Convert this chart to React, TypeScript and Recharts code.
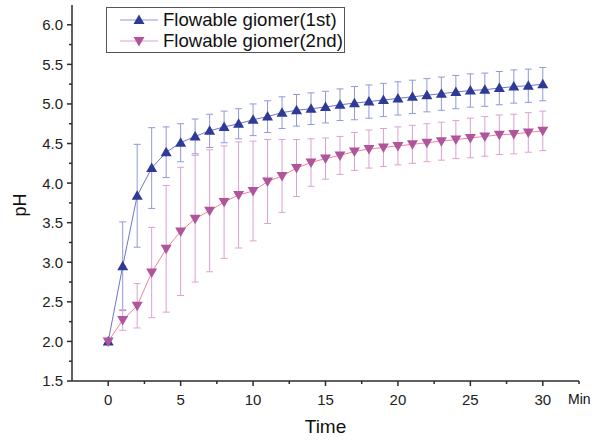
import React from "react";
import {
  LineChart,
  Line,
  XAxis,
  YAxis,
  ErrorBar,
  Legend,
  Label,
} from "recharts";

const minutes = [
  0, 1, 2, 3, 4, 5, 6, 7, 8, 9, 10, 11, 12, 13, 14, 15, 16, 17, 18, 19, 20, 21,
  22, 23, 24, 25, 26, 27, 28, 29, 30,
];
const firstMean = [
  2.0, 2.95, 3.84, 4.19, 4.39, 4.51, 4.59, 4.66, 4.71, 4.75, 4.8, 4.84, 4.89,
  4.92, 4.94, 4.96, 4.99, 5.01, 5.03, 5.05, 5.07, 5.09, 5.11, 5.13, 5.15, 5.17,
  5.18, 5.2, 5.22, 5.23, 5.25,
];
const firstSd = [
  0.02, 0.56, 0.65, 0.51, 0.32, 0.24, 0.22, 0.21, 0.2, 0.19, 0.2, 0.2, 0.2,
  0.2, 0.2, 0.2, 0.2, 0.21, 0.21, 0.21, 0.21, 0.21, 0.21, 0.21, 0.21, 0.21,
  0.21, 0.21, 0.21, 0.21, 0.21,
];
const secondMean = [
  2.0, 2.27, 2.45, 2.87, 3.17, 3.39, 3.55, 3.65, 3.76, 3.85, 3.9, 4.02, 4.09,
  4.19, 4.26, 4.31, 4.35, 4.4, 4.43, 4.45, 4.47, 4.49, 4.51, 4.53, 4.55, 4.57,
  4.59, 4.61, 4.62, 4.64, 4.66,
];
const secondSd = [
  0.02, 0.13, 0.28, 0.57, 0.8, 0.81, 0.8, 0.77, 0.71, 0.67, 0.63, 0.53, 0.46,
  0.36, 0.3, 0.26, 0.24, 0.24, 0.24, 0.24, 0.24, 0.24, 0.24, 0.24, 0.24, 0.25,
  0.25, 0.25, 0.25, 0.25, 0.25,
];

const xTicks = [0, 2.5, 5, 7.5, 10, 12.5, 15, 17.5, 20, 22.5, 25, 27.5, 30, 32.5];
const yTicks = [
  1.5, 1.75, 2.0, 2.25, 2.5, 2.75, 3.0, 3.25, 3.5, 3.75, 4.0, 4.25, 4.5, 4.75,
  5.0, 5.25, 5.5, 5.75, 6.0,
];

const data = minutes.map((t, i) => ({
  t,
  first: firstMean[i],
  firstErr: firstSd[i],
  second: secondMean[i],
  secondErr: secondSd[i],
}));

const FONT = "Arial, 'Liberation Sans', sans-serif";
const AXIS = "#2b2b2b";
const BLUE = "#2e3a96";
const BLUE_LINE = "#6f74cc";
const BLUE_ERR = "#9297dd";
const PINK = "#b0559b";
const PINK_LINE = "#f27f9e";
const PINK_ERR = "#dba2cf";

const isMajor = (v: number, step: number) =>
  Math.abs(v / step - Math.round(v / step)) < 1e-6;

function XTick(props: any) {
  const { x, y, payload } = props;
  const major = isMajor(payload.value, 5);
  return (
    <g>
      <line x1={x} x2={x} y1={y} y2={y + (major ? 5 : 3)} stroke={AXIS} strokeWidth={1.5} />
      {major && payload.value <= 30 && (
        <text x={x} y={y + 24} textAnchor="middle" fontSize={15} fill="#222" fontFamily={FONT}>
          {payload.value}
        </text>
      )}
    </g>
  );
}

function YTick(props: any) {
  const { x, y, payload } = props;
  const major = isMajor(payload.value, 0.5);
  return (
    <g>
      <line x1={x} x2={x - (major ? 5 : 3)} y1={y} y2={y} stroke={AXIS} strokeWidth={1.5} />
      {major && (
        <text x={x - 9} y={y} dy="0.36em" textAnchor="end" fontSize={15} fill="#222" fontFamily={FONT}>
          {payload.value.toFixed(1)}
        </text>
      )}
    </g>
  );
}

function UpTriangle(props: any) {
  const { cx, cy, fill } = props;
  if (cx == null || cy == null) return null;
  return (
    <path
      d={`M${cx},${cy - 5.5} L${cx + 5.5},${cy + 4} L${cx - 5.5},${cy + 4} Z`}
      fill={fill}
    />
  );
}

function DownTriangle(props: any) {
  const { cx, cy, fill } = props;
  if (cx == null || cy == null) return null;
  return (
    <path
      d={`M${cx},${cy + 5.5} L${cx + 5.5},${cy - 4} L${cx - 5.5},${cy - 4} Z`}
      fill={fill}
    />
  );
}

function LegendBox(props: any) {
  const { payload } = props;
  return (
    <div
      style={{
        border: "1px solid #555",
        padding: "1px 1px 1px 10px",
        background: "#fff",
        fontFamily: FONT,
        fontSize: 18.6,
        lineHeight: "21px",
        color: "#111",
      }}
    >
      {(payload || []).map((p: any) => {
        const up = p.dataKey === "first";
        return (
          <div key={p.value} style={{ display: "flex", alignItems: "center" }}>
            <svg width={46} height={21}>
              <line x1={3} x2={41} y1={11} y2={11} stroke={up ? BLUE_ERR : PINK_ERR} strokeWidth={1} />
              {up ? (
                <UpTriangle cx={22} cy={11} fill={BLUE} />
              ) : (
                <DownTriangle cx={22} cy={11} fill={PINK} />
              )}
            </svg>
            <span>{p.value}</span>
          </div>
        );
      })}
    </div>
  );
}

function TimeLabel(props: any) {
  const { x, y, width } = props.viewBox;
  return (
    <g fontFamily={FONT} fill="#111">
      <text x={x + width / 2} y={y + 52} textAnchor="middle" fontSize={19}>
        Time
      </text>
      <text x={x + width - 11} y={y + 23} textAnchor="start" fontSize={14}>
        Min
      </text>
    </g>
  );
}

function PhLabel(props: any) {
  const { x, y, height } = props.viewBox;
  const cx = x + 20;
  const cy = y + height / 2 + 12;
  return (
    <text
      x={cx}
      y={cy}
      transform={`rotate(-90 ${cx} ${cy})`}
      dy="0.35em"
      textAnchor="middle"
      fontSize={18}
      fontFamily={FONT}
      fill="#111"
    >
      pH
    </text>
  );
}

export default function App() {
  return (
    <div style={{ position: "absolute", left: 0, top: 0, background: "#fff" }}>
      <LineChart
        width={606}
        height={441}
        data={data}
        margin={{ top: 5, right: 27, bottom: 0, left: 0 }}
      >
        <XAxis
          dataKey="t"
          type="number"
          domain={[-2.5, 32.5]}
          ticks={xTicks}
          interval={0}
          height={60}
          tickSize={0}
          tickMargin={0}
          tick={<XTick />}
          axisLine={{ stroke: AXIS, strokeWidth: 1.5 }}
        >
          <Label content={<TimeLabel />} />
        </XAxis>
        <YAxis
          type="number"
          domain={[1.5, 6.25]}
          ticks={yTicks}
          interval={0}
          width={72}
          tickSize={0}
          tickMargin={0}
          tick={<YTick />}
          axisLine={{ stroke: AXIS, strokeWidth: 1.5 }}
        >
          <Label content={<PhLabel />} />
        </YAxis>
        <Legend
          layout="horizontal"
          verticalAlign="middle"
          align="center"
          wrapperStyle={{ left: 106, top: 7, width: "auto" }}
          content={<LegendBox />}
        />
        <Line
          dataKey="first"
          name="Flowable giomer(1st)"
          stroke={BLUE_LINE}
          strokeWidth={1}
          dot={<UpTriangle fill={BLUE} />}
          activeDot={false}
          isAnimationActive={false}
        >
          <ErrorBar dataKey="firstErr" direction="y" width={3.5} stroke={BLUE_ERR} strokeWidth={1} />
        </Line>
        <Line
          dataKey="second"
          name="Flowable giomer(2nd)"
          stroke={PINK_LINE}
          strokeWidth={1}
          dot={<DownTriangle fill={PINK} />}
          activeDot={false}
          isAnimationActive={false}
        >
          <ErrorBar dataKey="secondErr" direction="y" width={3.5} stroke={PINK_ERR} strokeWidth={1} />
        </Line>
      </LineChart>
    </div>
  );
}
